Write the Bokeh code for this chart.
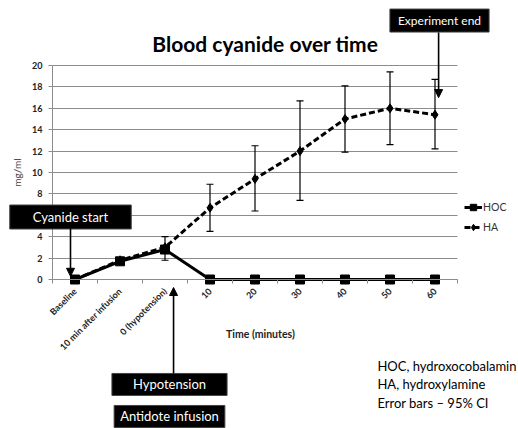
from math import pi

from bokeh.embed import file_html
from bokeh.models import (Arrow, ColumnDataSource, FixedTicker, Label, Legend,
                          LegendItem, NormalHead, Range1d, TeeHead, Whisker)
from bokeh.plotting import figure
from bokeh.resources import INLINE

# Time points (categorical x axis)
categories = ["Baseline", "10 min after infusion", "0 (hypotension)",
              "10", "20", "30", "40", "50", "60"]

# Blood cyanide, mg/ml
hoc = [0.0, 1.7, 2.8, 0.0, 0.0, 0.0, 0.0, 0.0, 0.0]
ha = [0.0, 1.8, 3.0, 6.7, 9.4, 12.0, 15.0, 16.0, 15.4]

# 95% CI for HA (from the hypotension point onward)
ci_index = [2, 3, 4, 5, 6, 7, 8]
ha_lower = [1.8, 4.5, 6.4, 7.4, 11.9, 12.6, 12.2]
ha_upper = [4.0, 8.9, 12.5, 16.7, 18.1, 19.4, 18.7]

y_ticks = [0, 2, 4, 6, 8, 10, 12, 14, 16, 18, 20]

FONT = "Lato"
GRID = "#8c8c8c"
xs = list(range(len(categories)))
n = len(categories)

# The plot frame fills the whole page so that the event boxes, arrows and notes
# around the chart body are not clipped; both axes are pinned at fixed positions.
W, H = 518, 428
X0_PX, DX_PX = 52, 45.0        # left edge of category band 0, band width
Y0_PX, DY_PX = 279, 10.7       # pixel row of y=0, pixels per mg/ml
x_lo = -0.5 - X0_PX / DX_PX
x_hi = -0.5 + (W - X0_PX) / DX_PX
y_hi = Y0_PX / DY_PX
y_lo = (Y0_PX - H) / DY_PX

p = figure(width=W, height=H, output_backend="svg", toolbar_location=None,
           x_range=Range1d(x_lo, x_hi), y_range=Range1d(y_lo, y_hi),
           min_border=0, outline_line_color=None)
p.title.visible = False
p.background_fill_color = "white"
p.border_fill_color = "white"

# x axis: category names, tick marks between categories
p.xaxis.fixed_location = 0
p.xaxis.bounds = (-0.5, n - 0.5)
p.xaxis.ticker = FixedTicker(ticks=xs, minor_ticks=[i - 0.5 for i in range(n + 1)])
p.xaxis.major_label_overrides = {i: c for i, c in enumerate(categories)}
p.xaxis.major_label_orientation = pi / 4
p.xaxis.major_label_text_font = FONT
p.xaxis.major_label_text_font_size = "9px"
p.xaxis.major_label_text_font_style = "bold"
p.xaxis.major_label_text_color = "#222222"
p.xaxis.major_label_standoff = 4
p.xaxis.major_tick_line_color = None
p.xaxis.minor_tick_in = 0
p.xaxis.minor_tick_out = 4
p.xaxis.minor_tick_line_color = GRID
p.xaxis.axis_line_color = GRID

# y axis
p.yaxis.fixed_location = -0.5
p.yaxis.ticker = FixedTicker(ticks=y_ticks)
p.yaxis.bounds = (0, 20)
p.yaxis.axis_line_color = GRID
p.yaxis.major_tick_line_color = GRID
p.yaxis.major_tick_in = 0
p.yaxis.major_tick_out = 4
p.yaxis.minor_tick_line_color = None
p.yaxis.major_label_text_font = FONT
p.yaxis.major_label_text_font_size = "9px"
p.yaxis.major_label_text_font_style = "bold"
p.yaxis.major_label_text_color = "#222222"
p.yaxis.major_label_standoff = 6
p.yaxis.axis_label = "mg/ml"
p.yaxis.axis_label_text_font = FONT
p.yaxis.axis_label_text_font_size = "10px"
p.yaxis.axis_label_text_font_style = "normal"
p.yaxis.axis_label_standoff = 6

p.xgrid.grid_line_color = None
ygrid = p.ygrid[0]
ygrid.ticker = FixedTicker(ticks=y_ticks)
if "cross_bounds" in ygrid.properties():
    ygrid.cross_bounds = (-0.5, n - 0.5)
    ygrid.grid_line_color = GRID
    ygrid.grid_line_width = 1
else:
    ygrid.visible = False
    p.segment(x0=[-0.5] * len(y_ticks), x1=[n - 0.5] * len(y_ticks),
              y0=y_ticks, y1=y_ticks, line_color=GRID, line_width=1)

# HA series (dashed) with CI whiskers
ci_src = ColumnDataSource(dict(x=ci_index, lower=ha_lower, upper=ha_upper))
p.add_layout(Whisker(source=ci_src, base="x", lower="lower", upper="upper",
                     line_color="black", line_width=1.2,
                     upper_head=TeeHead(size=7, line_color="black", line_width=1.2),
                     lower_head=TeeHead(size=7, line_color="black", line_width=1.2)))

ha_line = p.line(xs, ha, line_color="black", line_width=3, line_dash="6 3")
ha_pts = p.scatter(xs, ha, marker="diamond", size=9, color="black")

# HOC series (solid)
hoc_line = p.line(xs, hoc, line_color="black", line_width=3)
hoc_pts = p.scatter(xs, hoc, marker="square", size=9, color="black")

legend = Legend(items=[LegendItem(label="HOC", renderers=[hoc_line, hoc_pts]),
                       LegendItem(label="HA", renderers=[ha_line, ha_pts])],
                location=(464, 193), background_fill_alpha=0, border_line_color=None,
                label_text_font=FONT, label_text_font_size="10.5px",
                label_text_color="#333333",
                glyph_width=18, glyph_height=16, label_height=16,
                label_standoff=1, padding=0, spacing=4, margin=0)
p.add_layout(legend)

# Title and axis caption
p.add_layout(Label(x=4.23, y=22.1, text="Blood cyanide over time", text_font=FONT,
                   text_font_size="21px", text_font_style="bold", text_align="center",
                   text_baseline="middle", text_color="black"))
p.add_layout(Label(x=4.12, y=-5.05, text="Time (minutes)", text_font=FONT,
                   text_font_size="10.5px", text_font_style="bold", text_align="center",
                   text_baseline="middle", text_color="#222222"))


def event_box(x, y, text, pad_x, pad_y=4, size="13px"):
    p.add_layout(Label(x=x, y=y, text=text, text_font=FONT, text_font_size=size,
                       text_color="white", text_align="center", text_baseline="middle",
                       background_fill_color="black", border_line_color="#444444",
                       padding=dict(left=pad_x, right=pad_x, top=pad_y, bottom=pad_y)))


def event_arrow(x, y0, y1):
    p.add_layout(Arrow(x_start=x, y_start=y0, x_end=x, y_end=y1, line_color="black",
                       line_width=1.6,
                       end=NormalHead(size=8, fill_color="black", line_color="black")))


event_box(-0.1, 5.84, "Cyanide start", 23)
event_arrow(-0.1, 4.77, 0.3)

event_box(8.1, 24.2, "Experiment end", 8, size="12px")
event_arrow(8.08, 23.08, 17.0)

event_box(2.1, -9.81, "Hypotension", 21, pad_y=3)
event_box(2.1, -12.8, "Antidote infusion", 6, pad_y=3)
event_arrow(2.19, -8.79, -0.75)

# Abbreviations note
for yy, line in zip([-8.04, -9.81, -11.5],
                    ["HOC, hydroxocobalamin", "HA, hydroxylamine", "Error bars \u2013 95% CI"]):
    p.add_layout(Label(x=6.72, y=yy, text=line, text_font=FONT, text_font_size="13px",
                       text_align="left", text_baseline="middle", text_color="black"))

open("out.html", "w").write(file_html(p, INLINE))
